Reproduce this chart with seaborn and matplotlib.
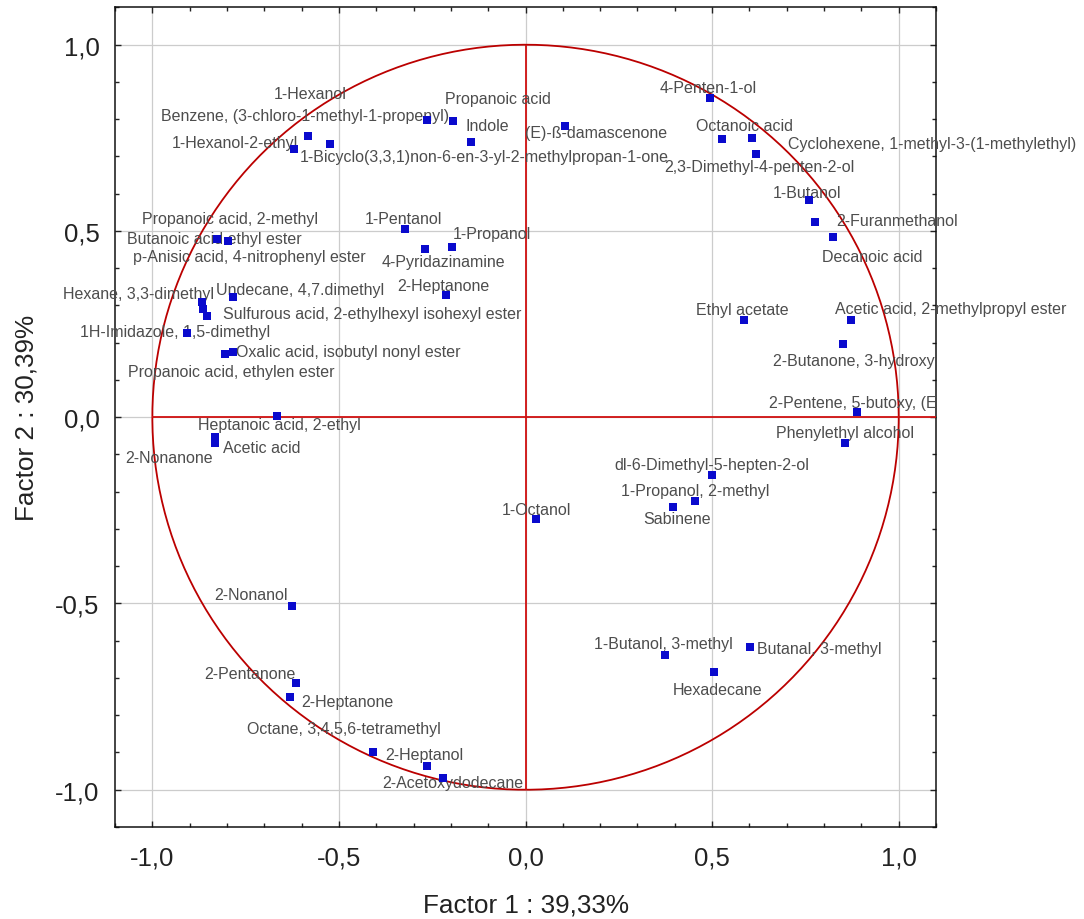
import numpy as np
import matplotlib
matplotlib.use("Agg")
import matplotlib.pyplot as plt
import matplotlib.ticker as mticker
import seaborn as sns

sns.set_style("ticks")
plt.rcParams['font.family'] = ['Liberation Sans', 'DejaVu Sans']

## Data: factor loadings
compounds = [
    "1-Hexanol", "Benzene, (3-chloro-1-methyl-1-propenyl)", "Propanoic acid", "Indole",
    "1-Hexanol-2-ethyl", "1-Bicyclo(3,3,1)non-6-en-3-yl-2-methylpropan-1-one",
    "(E)-ß-damascenone", "4-Penten-1-ol", "Octanoic acid",
    "Cyclohexene, 1-methyl-3-(1-methylethyl)", "2,3-Dimethyl-4-penten-2-ol", "1-Butanol",
    "2-Furanmethanol", "Decanoic acid", "Propanoic acid, 2-methyl", "Butanoic acid ethyl ester",
    "p-Anisic acid, 4-nitrophenyl ester", "Hexane, 3,3-dimethyl",
    "Sulfurous acid, 2-ethylhexyl isohexyl ester", "Undecane, 4,7.dimethyl",
    "1H-Imidazole, 1,5-dimethyl", "Oxalic acid, isobutyl nonyl ester",
    "Propanoic acid, ethylen ester", "1-Pentanol", "4-Pyridazinamine", "1-Propanol",
    "2-Heptanone", "Heptanoic acid, 2-ethyl", "Acetic acid", "2-Nonanone", "Ethyl acetate",
    "Acetic acid, 2-methylpropyl ester", "2-Butanone, 3-hydroxy", "2-Pentene, 5-butoxy, (E",
    "Phenylethyl alcohol", "dl-6-Dimethyl-5-hepten-2-ol", "1-Propanol, 2-methyl", "Sabinene",
    "1-Octanol", "1-Butanol, 3-methyl", "Butanal, 3-methyl", "Hexadecane", "2-Nonanol",
    "2-Pentanone", "2-Heptanone", "Octane, 3,4,5,6-tetramethyl", "2-Heptanol",
    "2-Acetoxydodecane",
]
factor1 = [
    -0.583, -0.264, -0.193, -0.145, -0.620, -0.524, 0.107, 0.493, 0.527, 0.608, 0.618, 0.760,
    0.776, 0.825, -0.827, -0.798, -0.864, -0.866, -0.854, -0.784, -0.908, -0.784, -0.804,
    -0.322, -0.269, -0.197, -0.214, -0.665, -0.832, -0.832, 0.586, 0.873, 0.852, 0.889,
    0.856, 0.499, 0.455, 0.396, 0.029, 0.374, 0.602, 0.505, -0.627, -0.615, -0.631,
    -0.410, -0.263, -0.220,
]
factor2 = [
    0.756, 0.798, 0.794, 0.740, 0.719, 0.734, 0.783, 0.858, 0.746, 0.750, 0.706, 0.583,
    0.523, 0.485, 0.479, 0.473, 0.291, 0.309, 0.273, 0.322, 0.225, 0.176, 0.170, 0.506,
    0.452, 0.458, 0.328, 0.002, -0.052, -0.070, 0.261, 0.261, 0.196, 0.013, -0.068, -0.155,
    -0.226, -0.241, -0.274, -0.638, -0.617, -0.685, -0.508, -0.714, -0.752, -0.898,
    -0.936, -0.968,
]

## Layout: label offsets from the point (pixels, x right / y up)
label_offsets = [
    (2, 42), (-122, 4), (44, 23), (16, 16), (-59, 7), (154, -13), (31, -7), (-1, 10),
    (22, 14), (180, -6), (3, -12), (-2, 8), (82, 2), (39, -20), (13, 20), (-13, 3),
    (46, 52), (-64, 9), (165, 2), (67, 8), (-12, 2), (115, 0), (6, -18), (-2, 10),
    (18, -13), (40, 13), (-2, 10), (2, -8), (47, -11), (-46, -14), (-2, 11), (99, 12),
    (10, -16), (-4, 10), (0, 10), (0, 10), (0, 11), (4, -11), (0, 10), (-2, 11),
    (69, -1), (4, -17), (-41, 12), (-46, 10), (57, -4), (-29, 23), (-3, 11), (9, -5),
]
clipped = {"2-Butanone, 3-hydroxy", "2-Pentene, 5-butoxy, (E"}

fig = plt.figure(figsize=(10.84, 9.2), dpi=100)
ax = fig.add_axes([0.1061, 0.1, 0.7574, 0.8908])

## Plot
sns.scatterplot(x=factor1, y=factor2, marker='s', color='#0a0acd', s=30,
                linewidth=0, ax=ax, zorder=5)

## Unit circle and cross
theta = np.linspace(0, 2 * np.pi, 400)
ax.plot(np.cos(theta), np.sin(theta), color='#bb0000', lw=1.3, zorder=3)
ax.set_xlim(-1.1, 1.1)
ax.set_ylim(-1.1, 1.1)
ax.hlines(0, -1, 1.1, color='#d01010', lw=1.3, zorder=3)
ax.vlines(0, -1, 1, color='#d01010', lw=1.3, zorder=3)

## Labels
for name, x, y, (dx, dy) in zip(compounds, factor1, factor2, label_offsets):
    t = ax.annotate(name, (x, y), xytext=(dx, dy), textcoords='offset pixels',
                    ha='center', va='center', fontsize=11.5, color='#4d4d4d',
                    annotation_clip=False, zorder=4)
    if name in clipped:
        t.set_clip_box(ax.bbox)
        t.set_clip_on(True)

## Plot style
ax.xaxis.set_major_locator(mticker.MultipleLocator(0.5))
ax.yaxis.set_major_locator(mticker.MultipleLocator(0.5))
ax.xaxis.set_minor_locator(mticker.MultipleLocator(0.1))
ax.yaxis.set_minor_locator(mticker.MultipleLocator(0.1))
comma = mticker.FuncFormatter(lambda v, p: ('%.1f' % v).replace('.', ','))
ax.xaxis.set_major_formatter(comma)
ax.yaxis.set_major_formatter(comma)
ax.grid(True, which='major', color='#cccccc', lw=0.9, zorder=0)
ax.set_axisbelow(True)
ax.tick_params(which='both', direction='in', top=True, right=True, colors='#222222',
               labelsize=18.5, width=1)
ax.tick_params(which='major', length=4.5)
ax.tick_params(which='minor', length=3)
ax.tick_params(axis='x', pad=13)
ax.tick_params(axis='y', pad=11)
for sp in ax.spines.values():
    sp.set_color('#111111')
    sp.set_linewidth(1.1)

ax.set_xlabel('Factor 1 : 39,33%', fontsize=18.8, color='#222222', labelpad=17)
ax.set_ylabel('Factor 2 : 30,39%', fontsize=18.8, color='#222222', labelpad=12)

## Save it
fig.savefig('out.png', dpi=100)
